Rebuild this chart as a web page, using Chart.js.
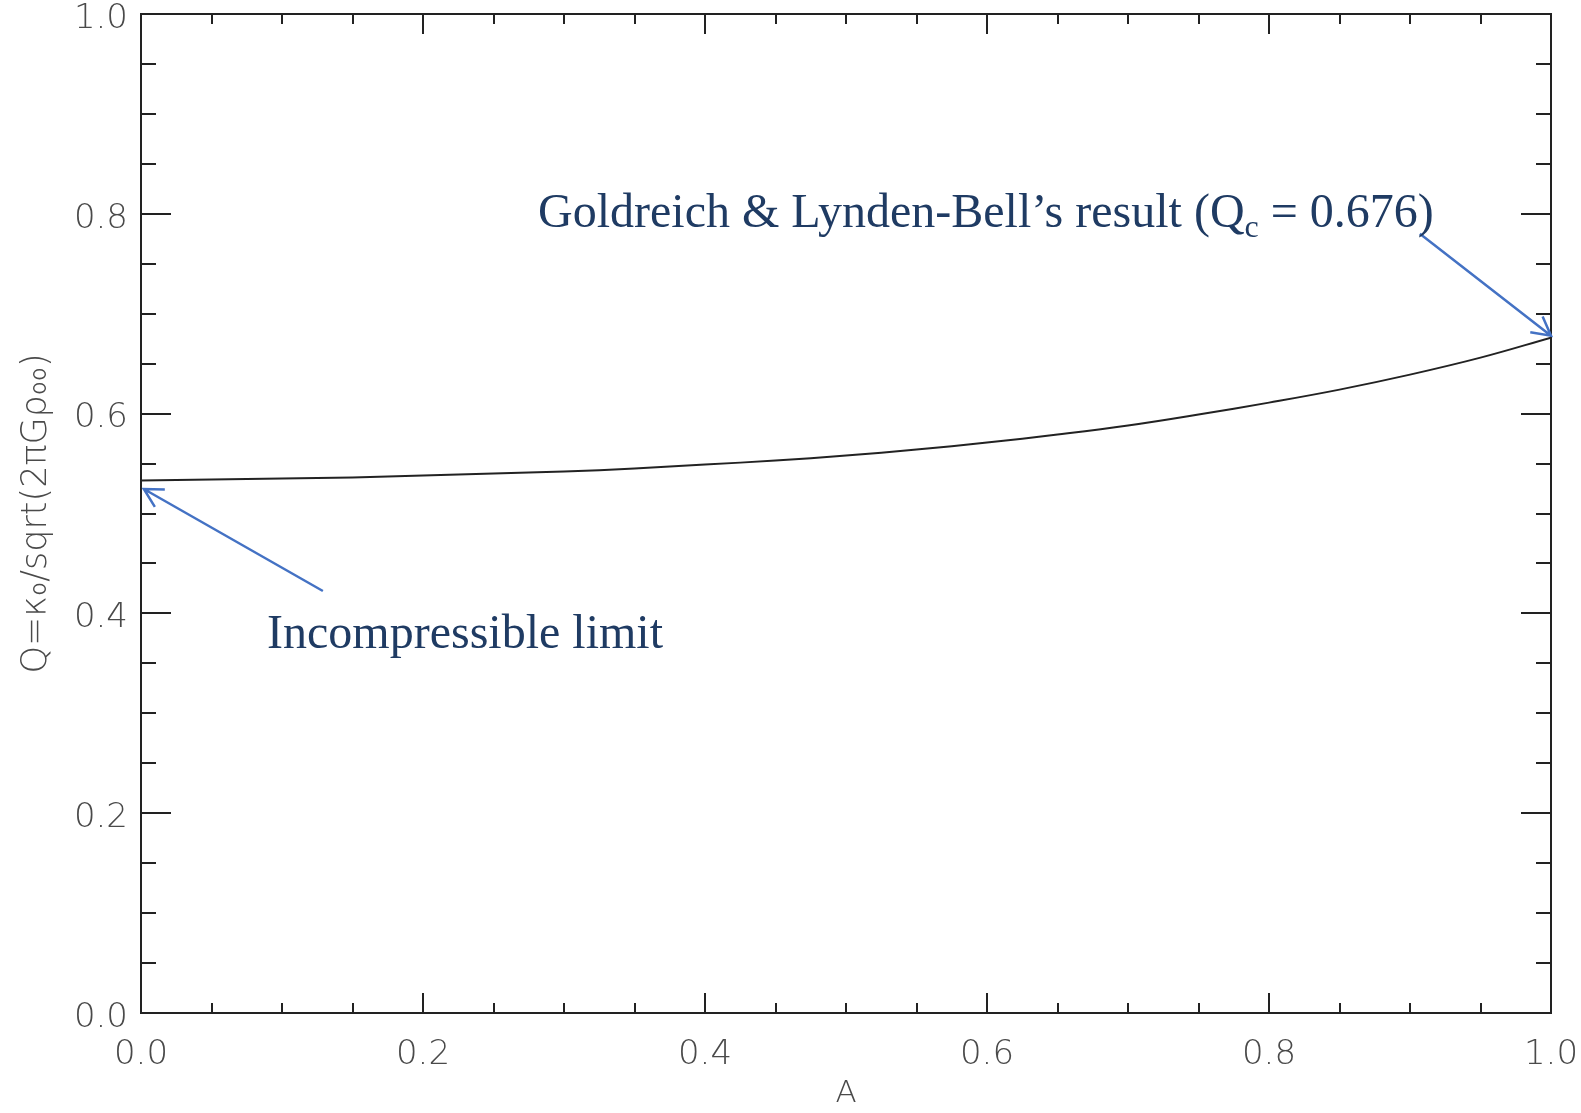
<!DOCTYPE html>
<html><head><meta charset="utf-8">
<script src="https://cdn.jsdelivr.net/npm/chart.js@4.4.0/dist/chart.umd.min.js"></script>
<style>html,body{margin:0;padding:0;background:#fff;} #wrap{width:1581px;height:1113px;position:relative;}</style>
</head><body><div id="wrap"><canvas id="c"></canvas></div>
<script>
// ---- data ----
const aValues = [0.00, 0.05, 0.10, 0.15, 0.20, 0.25, 0.30, 0.35, 0.40, 0.45, 0.50, 0.55, 0.60, 0.65, 0.70, 0.75, 0.80, 0.85, 0.90, 0.95, 1.00];
const qValues = [0.533, 0.534, 0.535, 0.536, 0.538, 0.540, 0.542, 0.545, 0.549, 0.553, 0.558, 0.564, 0.571, 0.579, 0.588, 0.599, 0.611, 0.624, 0.639, 0.656, 0.676];
const majorTicks = [0.0, 0.2, 0.4, 0.6, 0.8, 1.0];
const minorTicks = [0.05, 0.10, 0.15, 0.25, 0.30, 0.35, 0.45, 0.50, 0.55, 0.65, 0.70, 0.75, 0.85, 0.90, 0.95];
const xTitle = 'A';
const yTitle = 'Q=\u03BA\u2080/sqrt(2\u03C0G\u03C1\u2080\u2080)';
// annotation anchors in data units (A, Q)
const noteGL = {pre: 'Goldreich & Lynden-Bell\u2019s result (Q', sub: 'c', post: ' = 0.676)', at: [0.2816, 0.787], from: [0.907, 0.780], to: [1.0, 0.678]};
const noteInc = {text: 'Incompressible limit', at: [0.0894, 0.3654], from: [0.129, 0.4224], to: [0.002, 0.5245]};

const tickFont = {family: 'DejaVu Sans', size: 34, weight: '200'};
const labelColor = '#4a4a4a';

const framePlugin = {
  id: 'frame',
  afterDraw(chart) {
    const {ctx, chartArea: ca, scales: {x, y}} = chart;
    ctx.save();
    ctx.strokeStyle = '#222';
    ctx.lineWidth = 2;
    ctx.strokeRect(ca.left, ca.top, ca.right - ca.left, ca.bottom - ca.top);
    ctx.lineWidth = 2;
    ctx.beginPath();
    const drawX = (v, len) => {
      const px = Math.round(x.getPixelForValue(v));
      ctx.moveTo(px, ca.bottom); ctx.lineTo(px, ca.bottom - len);
      ctx.moveTo(px, ca.top); ctx.lineTo(px, ca.top + len);
    };
    const drawY = (v, len) => {
      const py = Math.round(y.getPixelForValue(v));
      ctx.moveTo(ca.left, py); ctx.lineTo(ca.left + len, py);
      ctx.moveTo(ca.right, py); ctx.lineTo(ca.right - len, py);
    };
    majorTicks.forEach(v => { drawX(v, 20); drawY(v, 30); });
    minorTicks.forEach(v => { drawX(v, 10); drawY(v, 15); });
    ctx.stroke();

    // arrows
    const arrow = (from, to) => {
      const x1 = x.getPixelForValue(from[0]), y1 = y.getPixelForValue(from[1]);
      const x2 = x.getPixelForValue(to[0]), y2 = y.getPixelForValue(to[1]);
      const ang = Math.atan2(y2 - y1, x2 - x1);
      ctx.strokeStyle = '#4472C4';
      ctx.lineWidth = 2.5;
      ctx.beginPath();
      ctx.moveTo(x1, y1); ctx.lineTo(x2, y2);
      const hl = 21, ha = 0.5;
      ctx.moveTo(x2 - hl * Math.cos(ang - ha), y2 - hl * Math.sin(ang - ha));
      ctx.lineTo(x2, y2);
      ctx.lineTo(x2 - hl * Math.cos(ang + ha), y2 - hl * Math.sin(ang + ha));
      ctx.stroke();
    };
    arrow(noteGL.from, noteGL.to);
    arrow(noteInc.from, noteInc.to);

    // texts
    ctx.fillStyle = '#1F3B63';
    ctx.textBaseline = 'alphabetic';
    ctx.textAlign = 'left';
    ctx.font = '48px "Liberation Serif"';
    let tx = x.getPixelForValue(noteGL.at[0]), ty = y.getPixelForValue(noteGL.at[1]);
    ctx.fillText(noteGL.pre, tx, ty);
    tx += ctx.measureText(noteGL.pre).width;
    ctx.font = '32px "Liberation Serif"';
    ctx.fillText(noteGL.sub, tx, ty + 10);
    tx += ctx.measureText(noteGL.sub).width;
    ctx.font = '48px "Liberation Serif"';
    ctx.fillText(noteGL.post, tx, ty);
    ctx.fillText(noteInc.text, x.getPixelForValue(noteInc.at[0]), y.getPixelForValue(noteInc.at[1]));
    ctx.restore();
  }
};

new Chart(document.getElementById('c'), {
  type: 'line',
  data: {
    datasets: [{
      data: aValues.map((a, i) => ({x: a, y: qValues[i]})),
      borderColor: '#222',
      borderWidth: 2,
      pointRadius: 0,
      tension: 0.4,
      fill: false
    }]
  },
  options: {
    responsive: true,
    maintainAspectRatio: false,
    animation: false,
    layout: {padding: {top: 14, right: 30, left: 0, bottom: 0}},
    plugins: {legend: {display: false}, tooltip: {enabled: false}},
    scales: {
      x: {
        type: 'linear', min: 0, max: 1,
        grid: {display: false, drawTicks: false},
        border: {display: false},
        ticks: {stepSize: 0.2, font: tickFont, color: labelColor, padding: 22, maxRotation: 0,
                callback: v => Number(v).toFixed(1)},
        title: {display: true, text: xTitle, font: {family: 'DejaVu Sans', size: 31, weight: '200'}, color: labelColor, padding: {top: 0, bottom: 0}},
        afterFit: s => { s.height = 100; s.paddingLeft = 0; s.paddingRight = 0; }
      },
      y: {
        type: 'linear', min: 0, max: 1,
        grid: {display: false, drawTicks: false},
        border: {display: false},
        ticks: {stepSize: 0.2, font: tickFont, color: labelColor, padding: 13, labelOffset: 5,
                callback: v => Number(v).toFixed(1)},
        title: {display: true, text: yTitle, font: {family: 'DejaVu Sans', size: 35, weight: '200'}, color: labelColor, padding: {top: 16, bottom: 0}},
        afterFit: s => { s.width = 141; s.paddingTop = 0; s.paddingBottom = 0; }
      }
    }
  },
  plugins: [framePlugin]
});
</script>
</body></html>
